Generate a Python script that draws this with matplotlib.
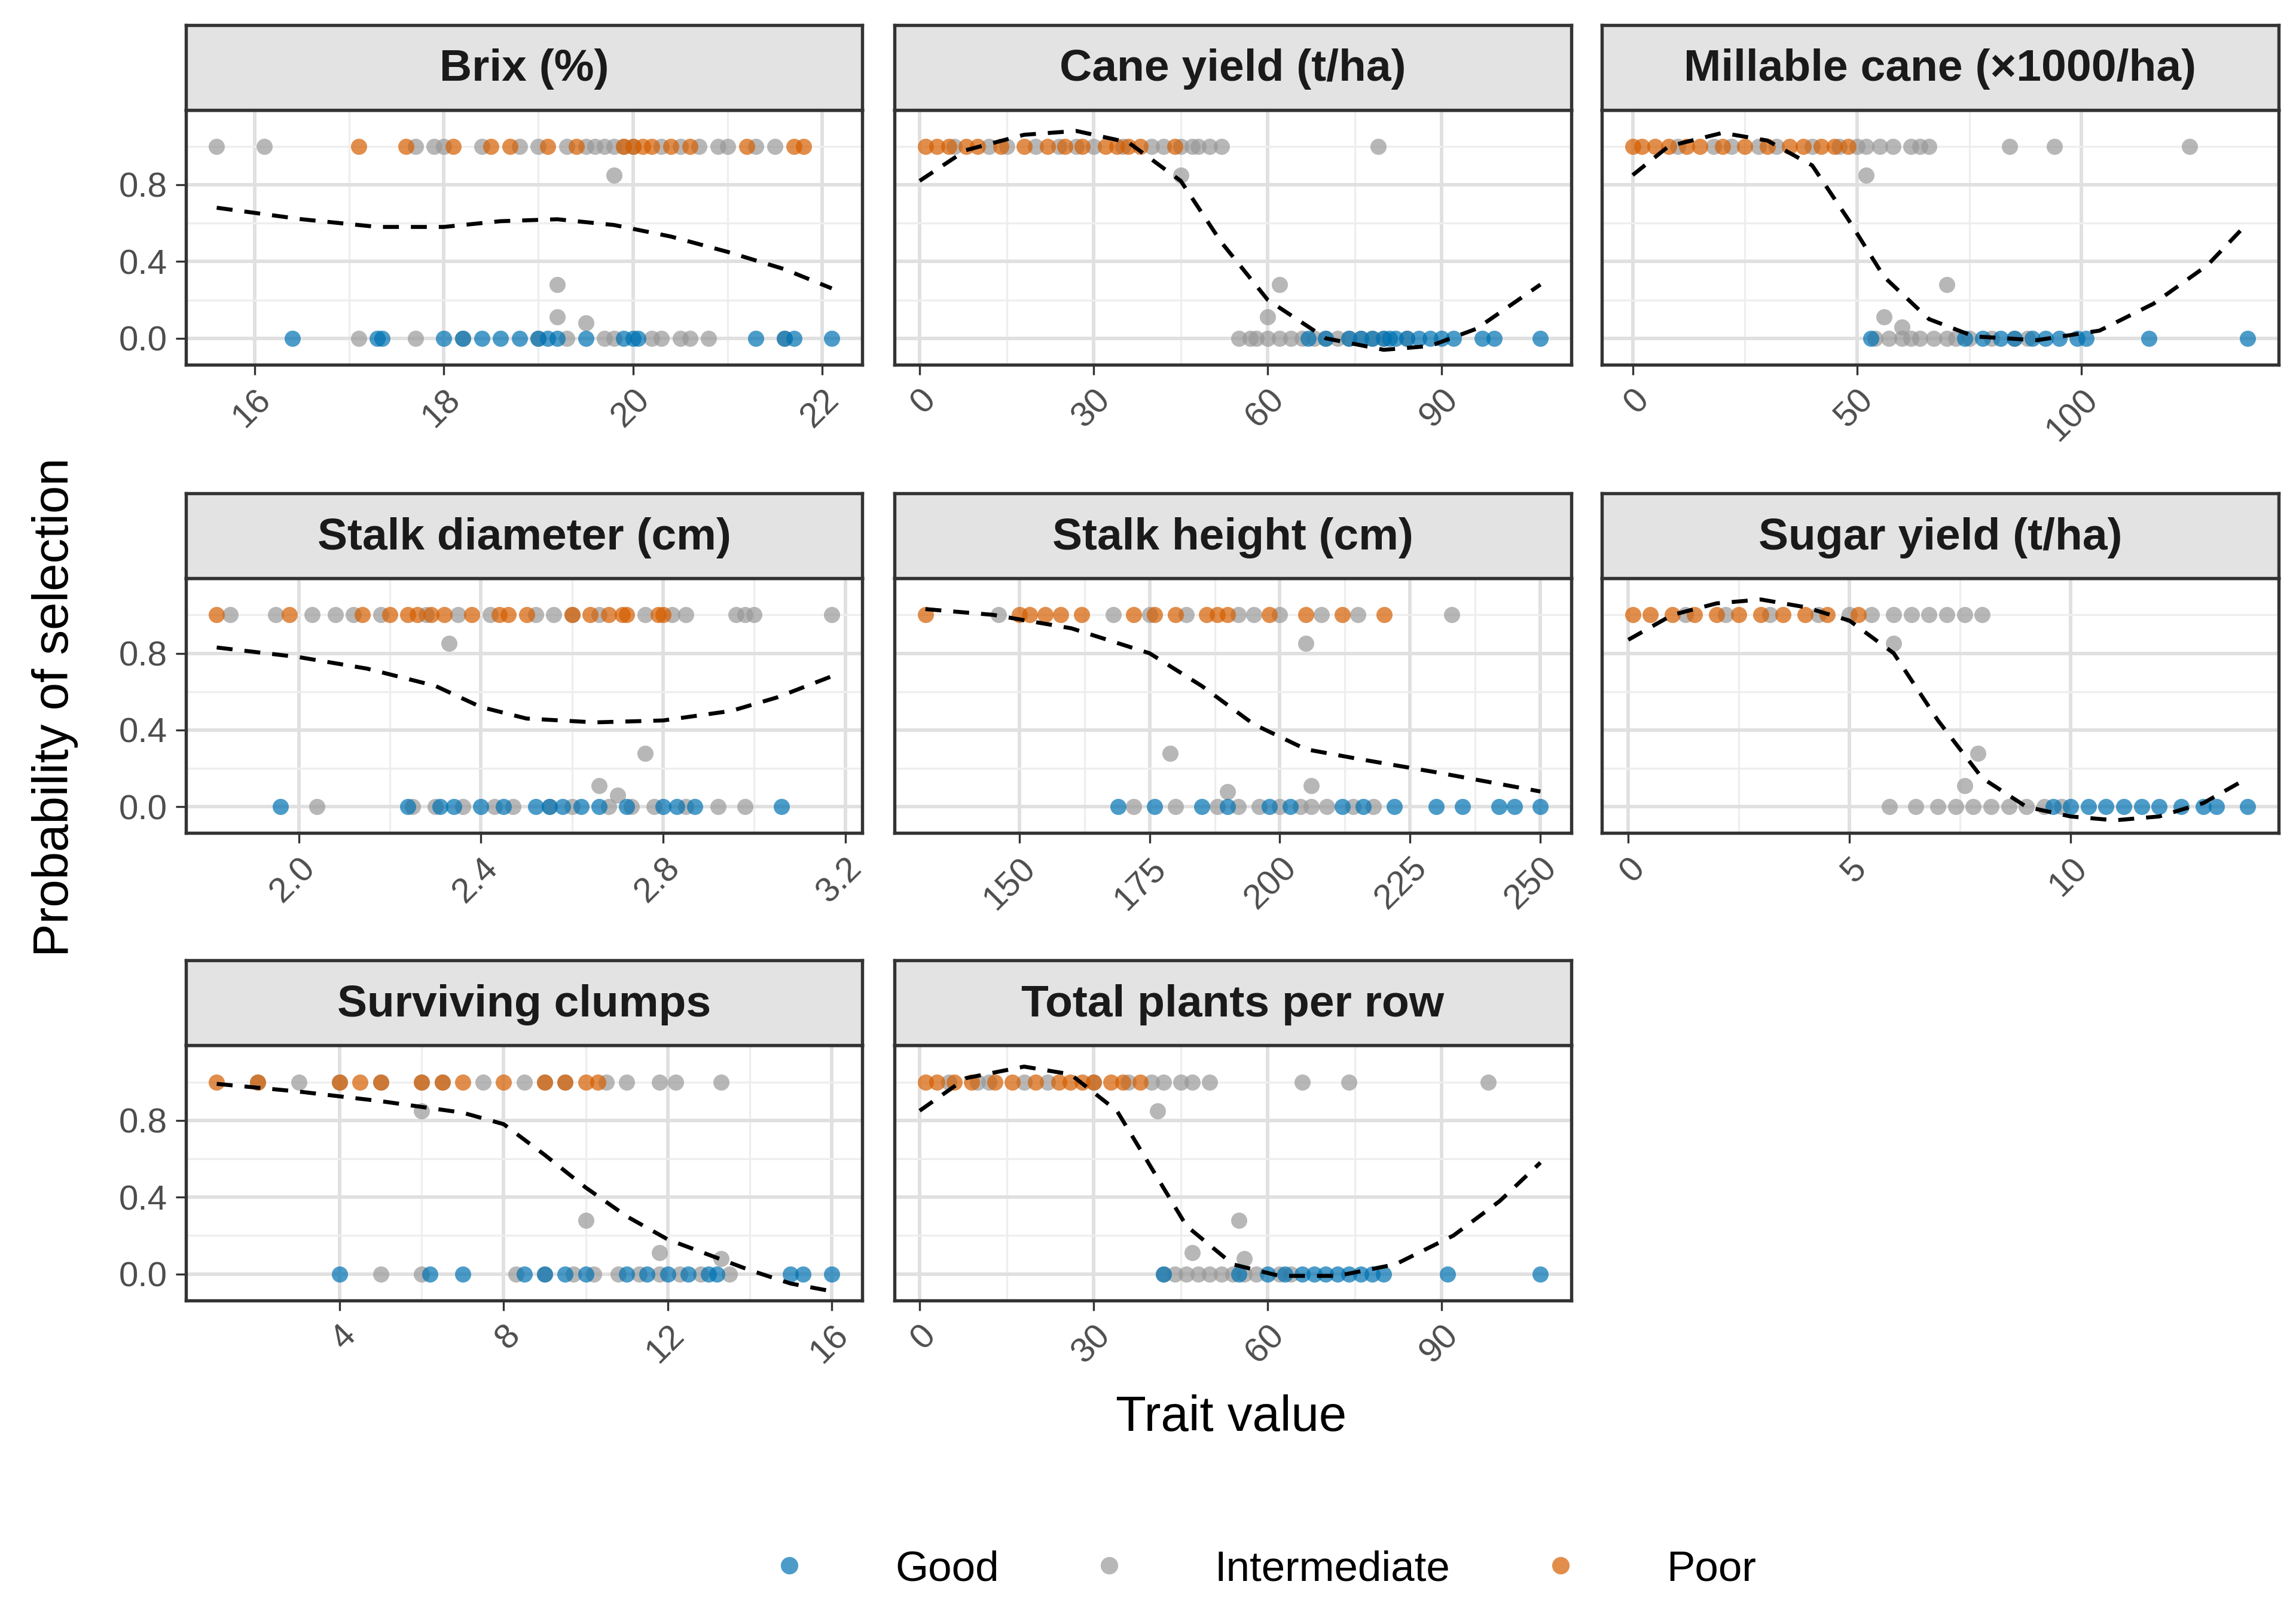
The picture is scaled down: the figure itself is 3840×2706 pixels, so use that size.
import numpy as np
import matplotlib
matplotlib.use("Agg")
import matplotlib.pyplot as plt
from matplotlib.lines import Line2D

plt.rcParams['font.family'] = ['Arial', 'Liberation Sans', 'DejaVu Sans']

GOOD = "#0072B2"
INTER = "#999999"
POOR = "#D55E00"

titles = ["Brix (%)", "Cane yield (t/ha)", "Millable cane (\u00d71000/ha)",
          "Stalk diameter (cm)", "Stalk height (cm)", "Sugar yield (t/ha)",
          "Surviving clumps", "Total plants per row"]

# Brix
brix_poor = [17.1, 17.6, 18.1, 18.5, 18.7, 19.1, 19.4, 19.9, 20.0, 20.1, 20.2, 20.4, 20.6, 21.2, 21.7, 21.8]
brix_inter_x = [15.6, 16.1, 17.7, 17.9, 18.0, 18.4, 18.8, 19.0, 19.3, 19.5, 19.6, 19.7, 19.8, 19.9, 20.0, 20.3, 20.5, 20.7, 20.9, 21.0, 21.3, 21.5,
                19.2, 19.2, 19.5, 19.8,
                17.1, 17.7, 18.2, 19.0, 19.3, 19.7, 19.8, 20.2, 20.3, 20.5, 20.6, 20.8, 21.6]
brix_inter_y = [1] * 22 + [0.28, 0.11, 0.08, 0.85] + [0] * 13
brix_good = [16.4, 17.3, 17.35, 18.0, 18.2, 18.4, 18.6, 18.8, 19.0, 19.1, 19.2, 19.5, 19.9, 20.0, 20.05, 21.3, 21.6, 21.7, 22.1]
brix_curve_x = [15.6, 16.5, 17.3, 18.0, 18.6, 19.2, 19.8, 20.4, 21.0, 21.6, 22.1]
brix_curve_y = [0.68, 0.62, 0.58, 0.58, 0.61, 0.62, 0.59, 0.53, 0.45, 0.36, 0.26]

# Cane yield
cane_poor = [1, 3, 5, 8, 10, 14, 18, 22, 25, 28, 32, 34, 36, 38, 44]
cane_inter_x = [6, 12, 15, 20, 24, 27, 30, 35, 40, 42, 45, 47, 48, 50, 52, 79,
                45, 62, 60,
                55, 57, 58, 60, 62, 64, 66, 68, 70, 72, 74, 76, 78, 80, 84]
cane_inter_y = [1] * 16 + [0.85, 0.28, 0.11] + [0] * 15
cane_good = [67, 70, 74, 76, 78, 80, 81, 82, 84, 86, 88, 90, 92, 97, 99, 107]
cane_curve_x = [0, 8, 18, 27, 36, 45, 52, 60, 70, 80, 88, 96, 107]
cane_curve_y = [0.82, 0.98, 1.06, 1.08, 1.02, 0.82, 0.5, 0.2, 0.0, -0.06, -0.04, 0.05, 0.28]

# Millable cane
mill_poor = [0, 2, 5, 8, 12, 15, 20, 25, 30, 35, 38, 42, 45, 48]
mill_inter_x = [10, 18, 22, 28, 32, 40, 46, 50, 52, 55, 58, 62, 64, 66, 84, 94, 124,
                52, 70, 56, 60,
                54, 57, 60, 62, 64, 67, 70, 72, 75, 80, 85, 88]
mill_inter_y = [1] * 17 + [0.85, 0.28, 0.11, 0.06] + [0] * 12
mill_good = [53, 74, 78, 82, 85, 89, 92, 95, 99, 101, 115, 137]
mill_curve_x = [0, 8, 20, 30, 40, 48, 56, 66, 76, 90, 104, 116, 128, 137]
mill_curve_y = [0.85, 1.0, 1.07, 1.03, 0.9, 0.62, 0.32, 0.1, 0.01, -0.01, 0.04, 0.18, 0.38, 0.6]

# Stalk diameter
diam_poor = [1.82, 1.98, 2.14, 2.2, 2.24, 2.26, 2.29, 2.32, 2.38, 2.44, 2.46, 2.5, 2.6, 2.64, 2.68, 2.71, 2.72, 2.79, 2.80]
diam_inter_x = [1.85, 1.95, 2.03, 2.08, 2.12, 2.18, 2.28, 2.35, 2.42, 2.52, 2.56, 2.6, 2.66, 2.76, 2.82, 2.85, 2.96, 2.98, 3.0, 3.17,
                2.33, 2.76, 2.66, 2.7,
                2.04, 2.25, 2.3, 2.36, 2.43, 2.47, 2.55, 2.6, 2.68, 2.73, 2.78, 2.85, 2.92, 2.98]
diam_inter_y = [1] * 20 + [0.85, 0.28, 0.11, 0.06] + [0] * 14
diam_good = [1.96, 2.24, 2.31, 2.34, 2.4, 2.45, 2.52, 2.55, 2.58, 2.62, 2.66, 2.72, 2.8, 2.83, 2.87, 3.06]
diam_curve_x = [1.82, 2.0, 2.15, 2.3, 2.4, 2.5, 2.65, 2.8, 2.95, 3.05, 3.17]
diam_curve_y = [0.83, 0.78, 0.72, 0.63, 0.52, 0.46, 0.44, 0.45, 0.5, 0.57, 0.68]

# Stalk height
height_poor = [132, 150, 152, 155, 158, 162, 172, 176, 180, 186, 188, 190, 198, 205, 212, 220]
height_inter_x = [146, 168, 175, 182, 192, 195, 200, 208, 215, 233,
                  205, 179, 190, 206,
                  172, 180, 188, 192, 196, 200, 204, 206, 209, 214, 218]
height_inter_y = [1] * 10 + [0.85, 0.28, 0.08, 0.11] + [0] * 11
height_good = [169, 176, 185, 190, 198, 202, 212, 216, 222, 230, 235, 242, 245, 250]
height_curve_x = [132, 145, 160, 175, 185, 195, 205, 215, 230, 250]
height_curve_y = [1.03, 1.0, 0.93, 0.8, 0.63, 0.43, 0.3, 0.25, 0.18, 0.08]

# Sugar yield
sugar_poor = [0.1, 0.5, 1, 1.5, 2, 2.5, 3, 3.5, 4, 4.5, 5.2]
sugar_inter_x = [1.3, 2.2, 3.2, 4.3, 5.0, 5.5, 6, 6.4, 6.8, 7.2, 7.6, 8.0,
                 6.0, 7.9, 7.6,
                 5.9, 6.5, 7, 7.4, 7.8, 8.2, 8.6, 9, 9.4, 9.8]
sugar_inter_y = [1] * 12 + [0.85, 0.28, 0.11] + [0] * 10
sugar_good = [9.6, 10, 10.4, 10.8, 11.2, 11.6, 12, 12.5, 13, 13.3, 14]
sugar_curve_x = [0, 1, 2, 3, 4, 5, 6, 7, 8, 9, 10, 11, 12, 13, 14]
sugar_curve_y = [0.87, 1.0, 1.06, 1.08, 1.04, 0.97, 0.8, 0.45, 0.15, 0.0, -0.05, -0.07, -0.05, 0.02, 0.15]

# Surviving clumps
clump_poor = [1, 2, 4, 4.5, 5, 6, 6.5, 7, 8, 9, 9.5, 10, 10.3]
clump_inter_x = [2, 3, 4, 5, 6, 6.5, 7.5, 8.5, 9, 9.5, 10.5, 11, 11.8, 12.2, 13.3,
                 6, 10, 11.8, 13.3,
                 5, 6, 8.3, 9, 9.7, 10.2, 10.8, 11.3, 11.8, 12.3, 12.8, 13.5]
clump_inter_y = [1] * 15 + [0.85, 0.28, 0.11, 0.08] + [0] * 12
clump_good = [4, 6.2, 7, 8.5, 9, 9.5, 10, 11, 11.5, 12, 12.5, 13, 13.2, 15, 15.3, 16]
clump_curve_x = [1, 3, 5, 7, 8, 9, 10, 11, 12, 13, 14, 15, 16]
clump_curve_y = [0.99, 0.95, 0.9, 0.84, 0.78, 0.62, 0.45, 0.3, 0.18, 0.1, 0.02, -0.05, -0.09]

# Total plants per row
total_poor = [1, 3, 6, 9, 13, 16, 20, 24, 26, 28, 30, 33, 35, 38]
total_inter_x = [5, 10, 12, 18, 22, 30, 36, 40, 42, 45, 47, 50, 66, 74, 98,
                 41, 55, 47, 56,
                 42, 44, 46, 48, 50, 52, 54, 56, 58, 62, 64]
total_inter_y = [1] * 15 + [0.85, 0.28, 0.11, 0.08] + [0] * 11
total_good = [42, 55, 60, 63, 66, 68, 70, 72, 74, 76, 78, 80, 91, 107]
total_curve_x = [0, 8, 18, 26, 34, 40, 46, 54, 62, 72, 82, 92, 100, 107]
total_curve_y = [0.85, 1.02, 1.08, 1.04, 0.85, 0.55, 0.25, 0.05, -0.01, -0.01, 0.05, 0.2, 0.38, 0.58]

panels = [
    (brix_poor, brix_inter_x, brix_inter_y, brix_good, brix_curve_x, brix_curve_y, ["16", "18", "20", "22"]),
    (cane_poor, cane_inter_x, cane_inter_y, cane_good, cane_curve_x, cane_curve_y, ["0", "30", "60", "90"]),
    (mill_poor, mill_inter_x, mill_inter_y, mill_good, mill_curve_x, mill_curve_y, ["0", "50", "100"]),
    (diam_poor, diam_inter_x, diam_inter_y, diam_good, diam_curve_x, diam_curve_y, ["2.0", "2.4", "2.8", "3.2"]),
    (height_poor, height_inter_x, height_inter_y, height_good, height_curve_x, height_curve_y, ["150", "175", "200", "225", "250"]),
    (sugar_poor, sugar_inter_x, sugar_inter_y, sugar_good, sugar_curve_x, sugar_curve_y, ["0", "5", "10"]),
    (clump_poor, clump_inter_x, clump_inter_y, clump_good, clump_curve_x, clump_curve_y, ["4", "8", "12", "16"]),
    (total_poor, total_inter_x, total_inter_y, total_good, total_curve_x, total_curve_y, ["0", "30", "60", "90"]),
]

W, H = 1568, 1105
fig = plt.figure(figsize=(12.8, 9.02), dpi=300)
col_left = [127, 611, 1094]
panel_w = 462
row_top = [75, 395, 714]
panel_h = 174
strip_h = 58

for i, (poor, ix, iy, good, cx, cy, labels) in enumerate(panels):
    r, c = divmod(i, 3)
    ticks = [float(t) for t in labels]
    l = col_left[c] / W
    b = 1 - (row_top[r] + panel_h) / H
    ax = fig.add_axes([l, b, panel_w / W, panel_h / H])
    sax = fig.add_axes([l, 1 - row_top[r] / H, panel_w / W, strip_h / H])
    sax.set_facecolor("#e3e3e3")
    sax.set_xticks([]); sax.set_yticks([])
    for s in sax.spines.values():
        s.set_color("#333333"); s.set_linewidth(1.3)
    sax.text(0.5, 0.48, titles[i], ha="center", va="center", fontsize=18,
             fontweight="bold", color="#1a1a1a", transform=sax.transAxes)

    ax.scatter(ix, iy, s=42, color=INTER, alpha=0.7, linewidths=0, zorder=3)
    ax.scatter(good, [0] * len(good), s=42, color=GOOD, alpha=0.7, linewidths=0, zorder=3)
    ax.scatter(poor, [1] * len(poor), s=42, color=POOR, alpha=0.7, linewidths=0, zorder=3)
    ax.plot(cx, cy, color="black", linestyle=(0, (4, 3)), linewidth=1.6, zorder=4)

    allx = list(poor) + list(ix) + list(good)
    lo, hi = min(allx), max(allx)
    pad = (hi - lo) * 0.05
    ax.set_xlim(lo - pad, hi + pad)
    ax.set_ylim(-0.137, 1.19)
    ax.set_xticks(ticks)
    ax.set_xticks([(a + b2) / 2 for a, b2 in zip(ticks[:-1], ticks[1:])], minor=True)
    ax.set_yticks([0, 0.4, 0.8])
    ax.set_yticks([0.2, 0.6, 1.0], minor=True)
    ax.grid(which="major", color="#e0e0e0", linewidth=1.4, zorder=0)
    ax.grid(which="minor", color="#eeeeee", linewidth=0.8, zorder=0)
    ax.set_axisbelow(True)
    ax.tick_params(which="minor", length=0)
    ax.tick_params(which="major", length=4, color="#333333", labelsize=14, labelcolor="#4d4d4d")
    ax.set_xticklabels(labels, rotation=45, ha="right", rotation_mode="anchor")
    if c == 0:
        ax.set_yticklabels(["0.0", "0.4", "0.8"])
    else:
        ax.set_yticklabels([])
        ax.tick_params(axis="y", length=0)
    for s in ax.spines.values():
        s.set_color("#333333"); s.set_linewidth(1.3)

fig.text(0.024, 1 - 483 / H, "Probability of selection", rotation=90, ha="center", va="center", fontsize=20)
fig.text(841 / W, 1 - 968 / H, "Trait value", ha="center", va="center", fontsize=20)

handles = [Line2D([], [], marker="o", linestyle="", color=col, alpha=0.7, markersize=7, markeredgewidth=0)
           for col in (GOOD, INTER, POOR)]
fig.legend(handles, ["Good", "Intermediate", "Poor"], loc="center", bbox_to_anchor=(0.545, 1 - 1072 / H),
           ncol=3, frameon=False, fontsize=17, handletextpad=1.5, columnspacing=1.6)

fig.savefig("out.png", dpi=300)
